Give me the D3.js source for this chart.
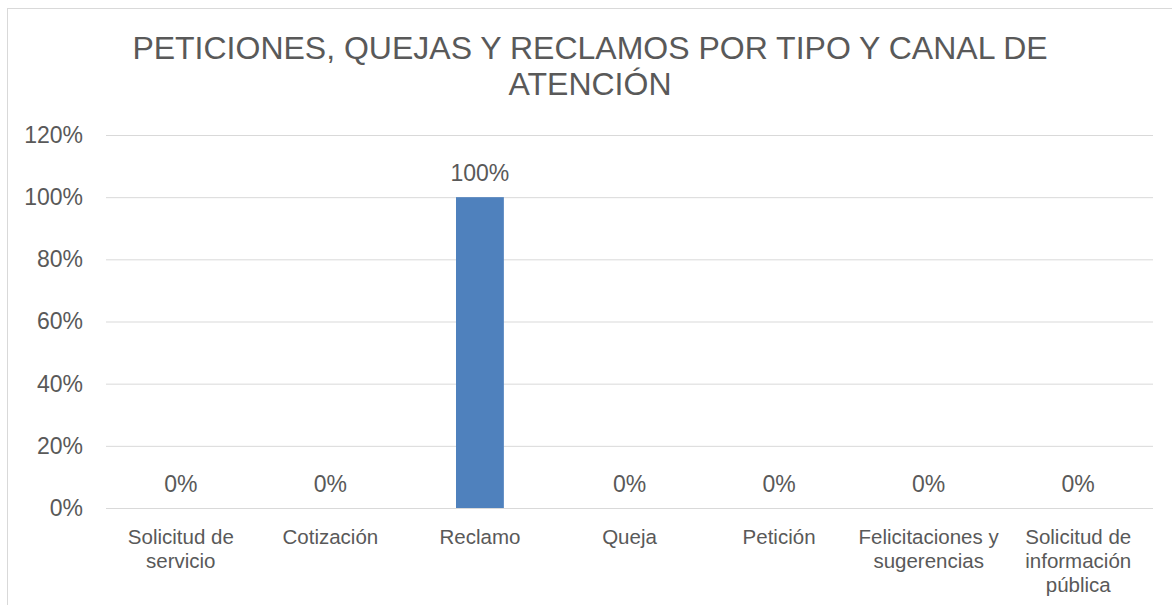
<!DOCTYPE html>
<html>
<head>
<meta charset="utf-8">
<script src="https://cdn.jsdelivr.net/npm/d3@7"></script>
<style>
  body { margin: 0; background: #fff; }
  svg text { font-family: "Liberation Sans", Arial, sans-serif; fill: #595959; }
</style>
</head>
<body>
<svg id="chart" width="1172" height="605"></svg>
<script>
// data
var categories = ["Solicitud de  servicio", "Cotización", "Reclamo", "Queja", "Petición",
                  "Felicitaciones y  sugerencias", "Solicitud de  información  pública"];
var values = [0, 0, 1, 0, 0, 0, 0];
var yTicks = [0, 0.2, 0.4, 0.6, 0.8, 1.0, 1.2];
var titleLines = ["PETICIONES, QUEJAS Y RECLAMOS POR TIPO Y CANAL DE", "ATENCIÓN"];

var svg = d3.select("#chart");

// chart border (runs off the right and bottom of the picture)
svg.append("rect")
    .attr("x", 7.5).attr("y", 8.5)
    .attr("width", 1200).attr("height", 700)
    .attr("fill", "none")
    .attr("stroke", "#d9d9d9");

var margin = {top: 135, left: 106, right: 19, bottom: 97},
    width = 1172 - margin.left - margin.right,
    height = 605 - margin.top - margin.bottom;

var x = d3.scaleBand()
    .domain(categories)
    .range([0, width])
    .paddingInner(0.68)
    .paddingOuter(0.34);

var y = d3.scaleLinear()
    .domain([0, 1.2])
    .range([height, 0]);

var g = svg.append("g")
    .attr("transform", "translate(" + margin.left + "," + margin.top + ")");

// title
svg.append("text")
    .attr("text-anchor", "middle")
    .attr("font-size", "32px")
    .selectAll("tspan")
    .data(titleLines)
    .enter().append("tspan")
    .attr("x", 590)
    .attr("y", function(d, i) { return 59 + i * 36; })
    .text(function(d) { return d; });

// gridlines + y axis labels
var yAxis = g.append("g")
    .call(d3.axisLeft(y).tickValues(yTicks).tickFormat(d3.format(".0%")).tickSize(-width).tickPadding(23));

yAxis.select(".domain").remove();
yAxis.selectAll(".tick line").attr("stroke", "#d9d9d9").attr("stroke-width", 1);
yAxis.selectAll(".tick text")
    .attr("font-size", "23px")
    .attr("font-family", "Liberation Sans, Arial, sans-serif")
    .attr("fill", "#595959");

// bars
g.selectAll(".bar")
    .data(values)
    .enter().append("rect")
    .attr("class", "bar")
    .attr("x", function(d, i) { return x(categories[i]); })
    .attr("y", function(d) { return y(d); })
    .attr("width", x.bandwidth())
    .attr("height", function(d) { return height - y(d); })
    .attr("fill", "#4f81bd");

// data labels
g.selectAll(".value")
    .data(values)
    .enter().append("text")
    .attr("class", "value")
    .attr("text-anchor", "middle")
    .attr("font-size", "23px")
    .attr("x", function(d, i) { return x(categories[i]) + x.bandwidth() / 2; })
    .attr("y", function(d) { return y(d) - 16; })
    .text(function(d) { return d3.format(".0%")(d); });

// x axis labels, split on double spaces
var xLabels = g.selectAll(".cat")
    .data(categories)
    .enter().append("text")
    .attr("class", "cat")
    .attr("text-anchor", "middle")
    .attr("font-size", "20.5px")
    .attr("transform", function(d) {
        return "translate(" + (x(d) + x.bandwidth() / 2) + "," + (height + 36) + ")";
    });

xLabels.each(function(d) {
    var el = d3.select(this);
    var words = d.split("  ");
    for (var i = 0; i < words.length; i++) {
        el.append("tspan")
            .attr("x", 0)
            .attr("y", i * 24)
            .text(words[i]);
    }
});
</script>
</body>
</html>
